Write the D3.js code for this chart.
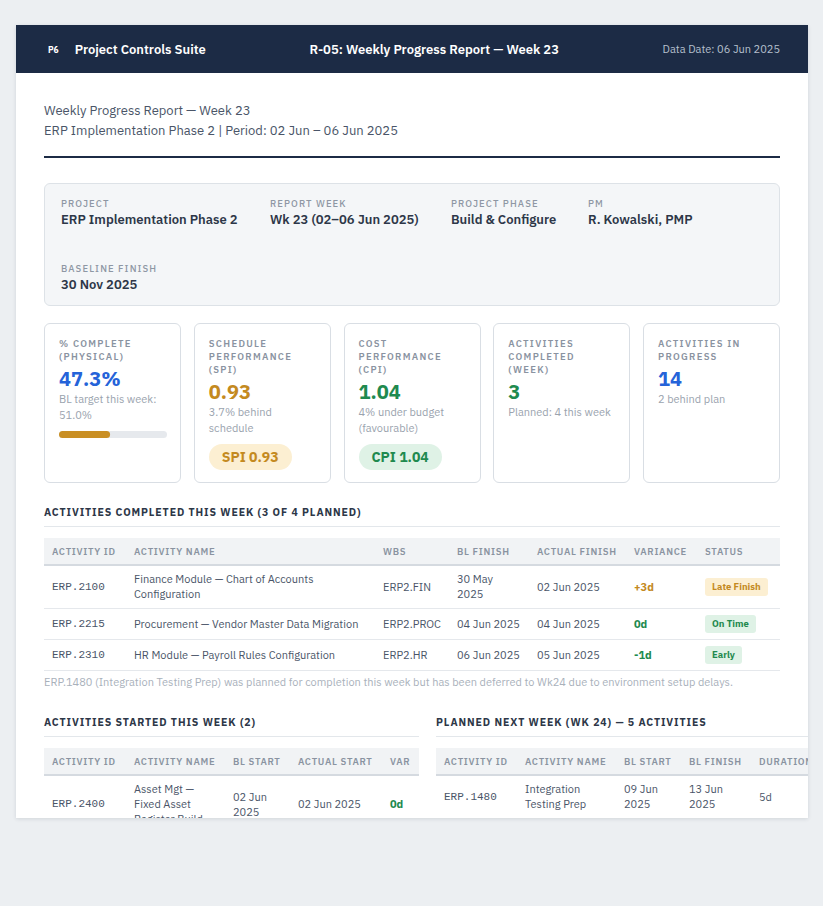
<!DOCTYPE html>
<html>
<head>
<meta charset="utf-8">
<script src="https://cdn.jsdelivr.net/npm/d3@7"></script>
<style>
body { margin: 0; background: #eceff2; font-family: "IBM Plex Sans", Roboto, sans-serif; color: #4a5568; }
.sheet { position: absolute; left: 16px; top: 25px; width: 792px; height: 793px; background: #fff; overflow: hidden; box-shadow: 0 1px 4px rgba(20,30,50,.12); }
.topbar { height: 48px; background: #1c2b45; color: #fff; display: flex; justify-content: space-between; align-items: center; padding: 0 28px 0 32px; }
.brand { display: flex; align-items: center; font-size: 13px; font-weight: 600; }
.brand .logo { font-size: 8.5px; font-weight: 700; margin-right: 16px; }
.topbar .title { font-size: 13px; font-weight: 600; }
.topbar .date { font-size: 11px; color: #b6c0ce; }
.content { padding: 28px 28px 0 28px; }
.rtitle { font-size: 13px; line-height: 20px; color: #4a5568; }
.rule { height: 2px; background: #1c2b45; margin: 15px 0 25px 0; }
.info { background: #f4f6f8; border: 1px solid #dde2e7; border-radius: 6px; padding: 13px 16px 11px 16px;
  display: grid; grid-template-columns: 209px 181px 137px auto; row-gap: 33px; }
.lbl { font-size: 9.5px; line-height: 13px; letter-spacing: 1.1px; color: #8e97a4; text-transform: uppercase; font-weight: 500; }
.info .val { font-size: 13px; line-height: 18px; font-weight: 600; color: #2d3748; margin-top: 1px; }
.kpis { display: flex; justify-content: space-between; margin-top: 17px; }
.kpi { width: 107px; height: 132px; border: 1px solid #d9dee4; border-radius: 6px; padding: 13px 14px 13px 14px; }
.kpi .lbl { font-weight: 600; letter-spacing: 1.3px; color: #8a93a1; }
.kpi .big { font-size: 20px; line-height: 24px; font-weight: 700; margin-top: 4px; }
.kpi .sub { font-size: 11px; line-height: 16px; color: #9aa3ae; }
.bar { margin-top: 8px; }
.pill { display: inline-block; margin-top: 8px; height: 26px; line-height: 26px; padding: 0 13px; border-radius: 13px; font-size: 14px; font-weight: 700; }
.sec { font-size: 10.5px; font-weight: 700; letter-spacing: 0.9px; color: #2d3748; line-height: 14px; padding-bottom: 7px; border-bottom: 1px solid #e3e7eb; margin-bottom: 11px; text-transform: uppercase; }
.sec.first { margin-top: 22px; }
table { border-collapse: collapse; table-layout: fixed; }
th { background: #f1f3f5; border-bottom: 2px solid #d5dae0; text-align: left; font-size: 9.5px; font-weight: 600; letter-spacing: 0.7px; color: #8a93a1; text-transform: uppercase; padding: 7px 8px 6px 8px; line-height: 13px; white-space: nowrap; overflow: hidden; }
td { font-size: 11px; line-height: 15px; padding: 6px 8px; border-bottom: 1px solid #e5e8ec; color: #4a5568; vertical-align: middle; }
td.mono { font-family: "Liberation Mono", "DejaVu Sans Mono", monospace; font-size: 11px; }
td.var { font-weight: 700; }
.tag { display: inline-block; font-size: 9.5px; font-weight: 700; line-height: 12px; padding: 3px 7px; border-radius: 3px; }
.note { font-size: 11px; line-height: 15px; color: #a9b1bb; margin-top: 4px; }
.lower { display: flex; margin-top: 25px; }
.lower .col { flex-shrink: 0; }
</style>
</head>
<body>
<script>
// header strip
const brandName = "Project Controls Suite";
const reportName = "R-05: Weekly Progress Report \u2014 Week 23";
const dataDate = "Data Date: 06 Jun 2025";
const titleLines = ["Weekly Progress Report \u2014 Week 23", "ERP Implementation Phase 2 | Period: 02 Jun \u2013 06 Jun 2025"];

// project info box
const infoLabels = ["Project", "Report Week", "Project Phase", "PM", "Baseline Finish"];
const infoValues = ["ERP Implementation Phase 2", "Wk 23 (02\u201306 Jun 2025)", "Build & Configure", "R. Kowalski, PMP", "30 Nov 2025"];

// kpi cards
const kpiLabels = ["% Complete (Physical)", "Schedule Performance (SPI)", "Cost Performance (CPI)", "Activities Completed (Week)", "Activities in Progress"];
const kpiValues = ["47.3%", "0.93", "1.04", "3", "14"];
const kpiSubs = [["BL target this week:", "51.0%"], ["3.7% behind", "schedule"], ["4% under budget", "(favourable)"], ["Planned: 4 this week"], ["2 behind plan"]];
const kpiState = ["info", "warn", "good", "good", "info"];
const kpiPills = [null, "SPI 0.93", "CPI 1.04", null, null];
const pctComplete = 47.3;

// completed this week
const doneCols = ["Activity ID", "Activity Name", "WBS", "BL Finish", "Actual Finish", "Variance", "Status"];
const doneIds = ["ERP.2100", "ERP.2215", "ERP.2310"];
const doneNames = ["Finance Module \u2014 Chart of Accounts Configuration", "Procurement \u2014 Vendor Master Data Migration", "HR Module \u2014 Payroll Rules Configuration"];
const doneWbs = ["ERP2.FIN", "ERP2.PROC", "ERP2.HR"];
const doneBlFinish = ["30 May 2025", "04 Jun 2025", "06 Jun 2025"];
const doneActFinish = ["02 Jun 2025", "04 Jun 2025", "05 Jun 2025"];
const doneVariance = ["+3d", "0d", "-1d"];
const doneStatus = ["Late Finish", "On Time", "Early"];
const doneNote = "ERP.1480 (Integration Testing Prep) was planned for completion this week but has been deferred to Wk24 due to environment setup delays.";

// started this week
const startedTitle = "Activities Started This Week (2)";
const startedCols = ["Activity ID", "Activity Name", "BL Start", "Actual Start", "Var"];
const startedIds = ["ERP.2400"];
const startedNames = ["Asset Mgt \u2014 Fixed Asset Register Build"];
const startedBlStart = ["02 Jun 2025"];
const startedActStart = ["02 Jun 2025"];
const startedVar = ["0d"];

// planned next week
const nextTitle = "Planned Next Week (Wk 24) \u2014 5 Activities";
const nextCols = ["Activity ID", "Activity Name", "BL Start", "BL Finish", "Duration"];
const nextIds = ["ERP.1480"];
const nextNames = ["Integration Testing Prep"];
const nextBlStart = ["09 Jun 2025"];
const nextBlFinish = ["13 Jun 2025"];
const nextDur = ["5d"];

const tone = {
    info: { fg: "#2563d9", bg: "#e3ecfb" },
    warn: { fg: "#c48a1f", bg: "#fcefd2" },
    good: { fg: "#1f8a4f", bg: "#dff2e6" }
};
const statusTone = { "Late Finish": "warn", "On Time": "good", "Early": "good" };
const varTone = v => v.startsWith("+") ? "warn" : "good";

const sheet = d3.select("body").append("div").attr("class", "sheet");

// top bar
const bar = sheet.append("div").attr("class", "topbar");
const brand = bar.append("div").attr("class", "brand");
brand.append("span").attr("class", "logo").text("P6");
brand.append("span").text(brandName);
bar.append("div").attr("class", "title").text(reportName);
bar.append("div").attr("class", "date").text(dataDate);

const content = sheet.append("div").attr("class", "content");
content.selectAll("div.rtitle").data(titleLines).join("div").attr("class", "rtitle").text(d => d);
content.append("div").attr("class", "rule");

// info grid
const info = content.append("div").attr("class", "info");
const items = info.selectAll("div.item").data(infoLabels).join("div").attr("class", "item");
items.append("div").attr("class", "lbl").text(d => d);
items.append("div").attr("class", "val").text((d, i) => infoValues[i]);

// kpi cards
const barW = d3.scaleLinear().domain([0, 100]).range([0, 108]);
const kpis = content.append("div").attr("class", "kpis")
    .selectAll("div.kpi").data(kpiLabels).join("div").attr("class", "kpi");
kpis.append("div").attr("class", "lbl").text(d => d);
kpis.append("div").attr("class", "big")
    .style("color", (d, i) => tone[kpiState[i]].fg)
    .text((d, i) => kpiValues[i]);
kpis.append("div").attr("class", "sub").html((d, i) => kpiSubs[i].join("<br>"));

// physical % progress bar
const svg = kpis.filter((d, i) => i === 0).append("svg").attr("class", "bar")
    .attr("width", barW(100)).attr("height", 7).style("display", "block");
svg.append("rect").attr("width", barW(100)).attr("height", 7).attr("rx", 3.5).attr("fill", "#e6e9ed");
svg.append("rect").attr("width", barW(pctComplete)).attr("height", 7).attr("rx", 3.5).attr("fill", "#c98f24");

kpis.filter((d, i) => kpiPills[i]).append("div").attr("class", "pill")
    .style("color", d => tone[kpiState[kpiLabels.indexOf(d)]].fg)
    .style("background", d => tone[kpiState[kpiLabels.indexOf(d)]].bg)
    .text(d => kpiPills[kpiLabels.indexOf(d)]);

function drawTable(parent, cols, widths, rows, cellFn) {
    const t = parent.append("table").style("width", d3.sum(widths) + "px");
    t.append("colgroup").selectAll("col").data(widths).join("col").style("width", d => d + "px");
    t.append("thead").append("tr").selectAll("th").data(cols).join("th").text(d => d);
    const tr = t.append("tbody").selectAll("tr").data(rows).join("tr");
    tr.selectAll("td").data(r => r.map((v, j) => ({ v, j }))).join("td").each(cellFn);
    return t;
}

// completed table
content.append("div").attr("class", "sec first").text("Activities Completed This Week (3 of 4 Planned)");
const doneRows = doneIds.map((id, i) => [id, doneNames[i], doneWbs[i], doneBlFinish[i], doneActFinish[i], doneVariance[i], doneStatus[i]]);
drawTable(content, doneCols, [82, 249, 74, 80, 97, 71, 83], doneRows, function (c) {
    const td = d3.select(this);
    if (c.j === 0) td.attr("class", "mono").text(c.v);
    else if (c.j === 5) td.attr("class", "var").style("color", tone[varTone(c.v)].fg).text(c.v);
    else if (c.j === 6) td.append("span").attr("class", "tag")
        .style("color", tone[statusTone[c.v]].fg).style("background", tone[statusTone[c.v]].bg).text(c.v);
    else td.text(c.v);
});
content.append("div").attr("class", "note").text(doneNote);

// lower two tables
const lower = content.append("div").attr("class", "lower");
const left = lower.append("div").attr("class", "col").style("width", "375px");
left.append("div").attr("class", "sec").text(startedTitle);
const startedRows = startedIds.map((id, i) => [id, startedNames[i], startedBlStart[i], startedActStart[i], startedVar[i]]);
const cellBasic = function (c) {
    const td = d3.select(this);
    if (c.j === 0) td.attr("class", "mono").text(c.v);
    else td.text(c.v);
};
drawTable(left, startedCols, [82, 99, 65, 92, 37], startedRows, function (c) {
    if (c.j === 4) d3.select(this).attr("class", "var").style("color", tone[varTone(c.v)].fg).text(c.v);
    else cellBasic.call(this, c);
});

const right = lower.append("div").attr("class", "col").style("width", "400px").style("margin-left", "17px");
right.append("div").attr("class", "sec").text(nextTitle);
const nextRows = nextIds.map((id, i) => [id, nextNames[i], nextBlStart[i], nextBlFinish[i], nextDur[i]]);
drawTable(right, nextCols, [81, 99, 65, 70, 85], nextRows, cellBasic);
</script>
</body>
</html>
